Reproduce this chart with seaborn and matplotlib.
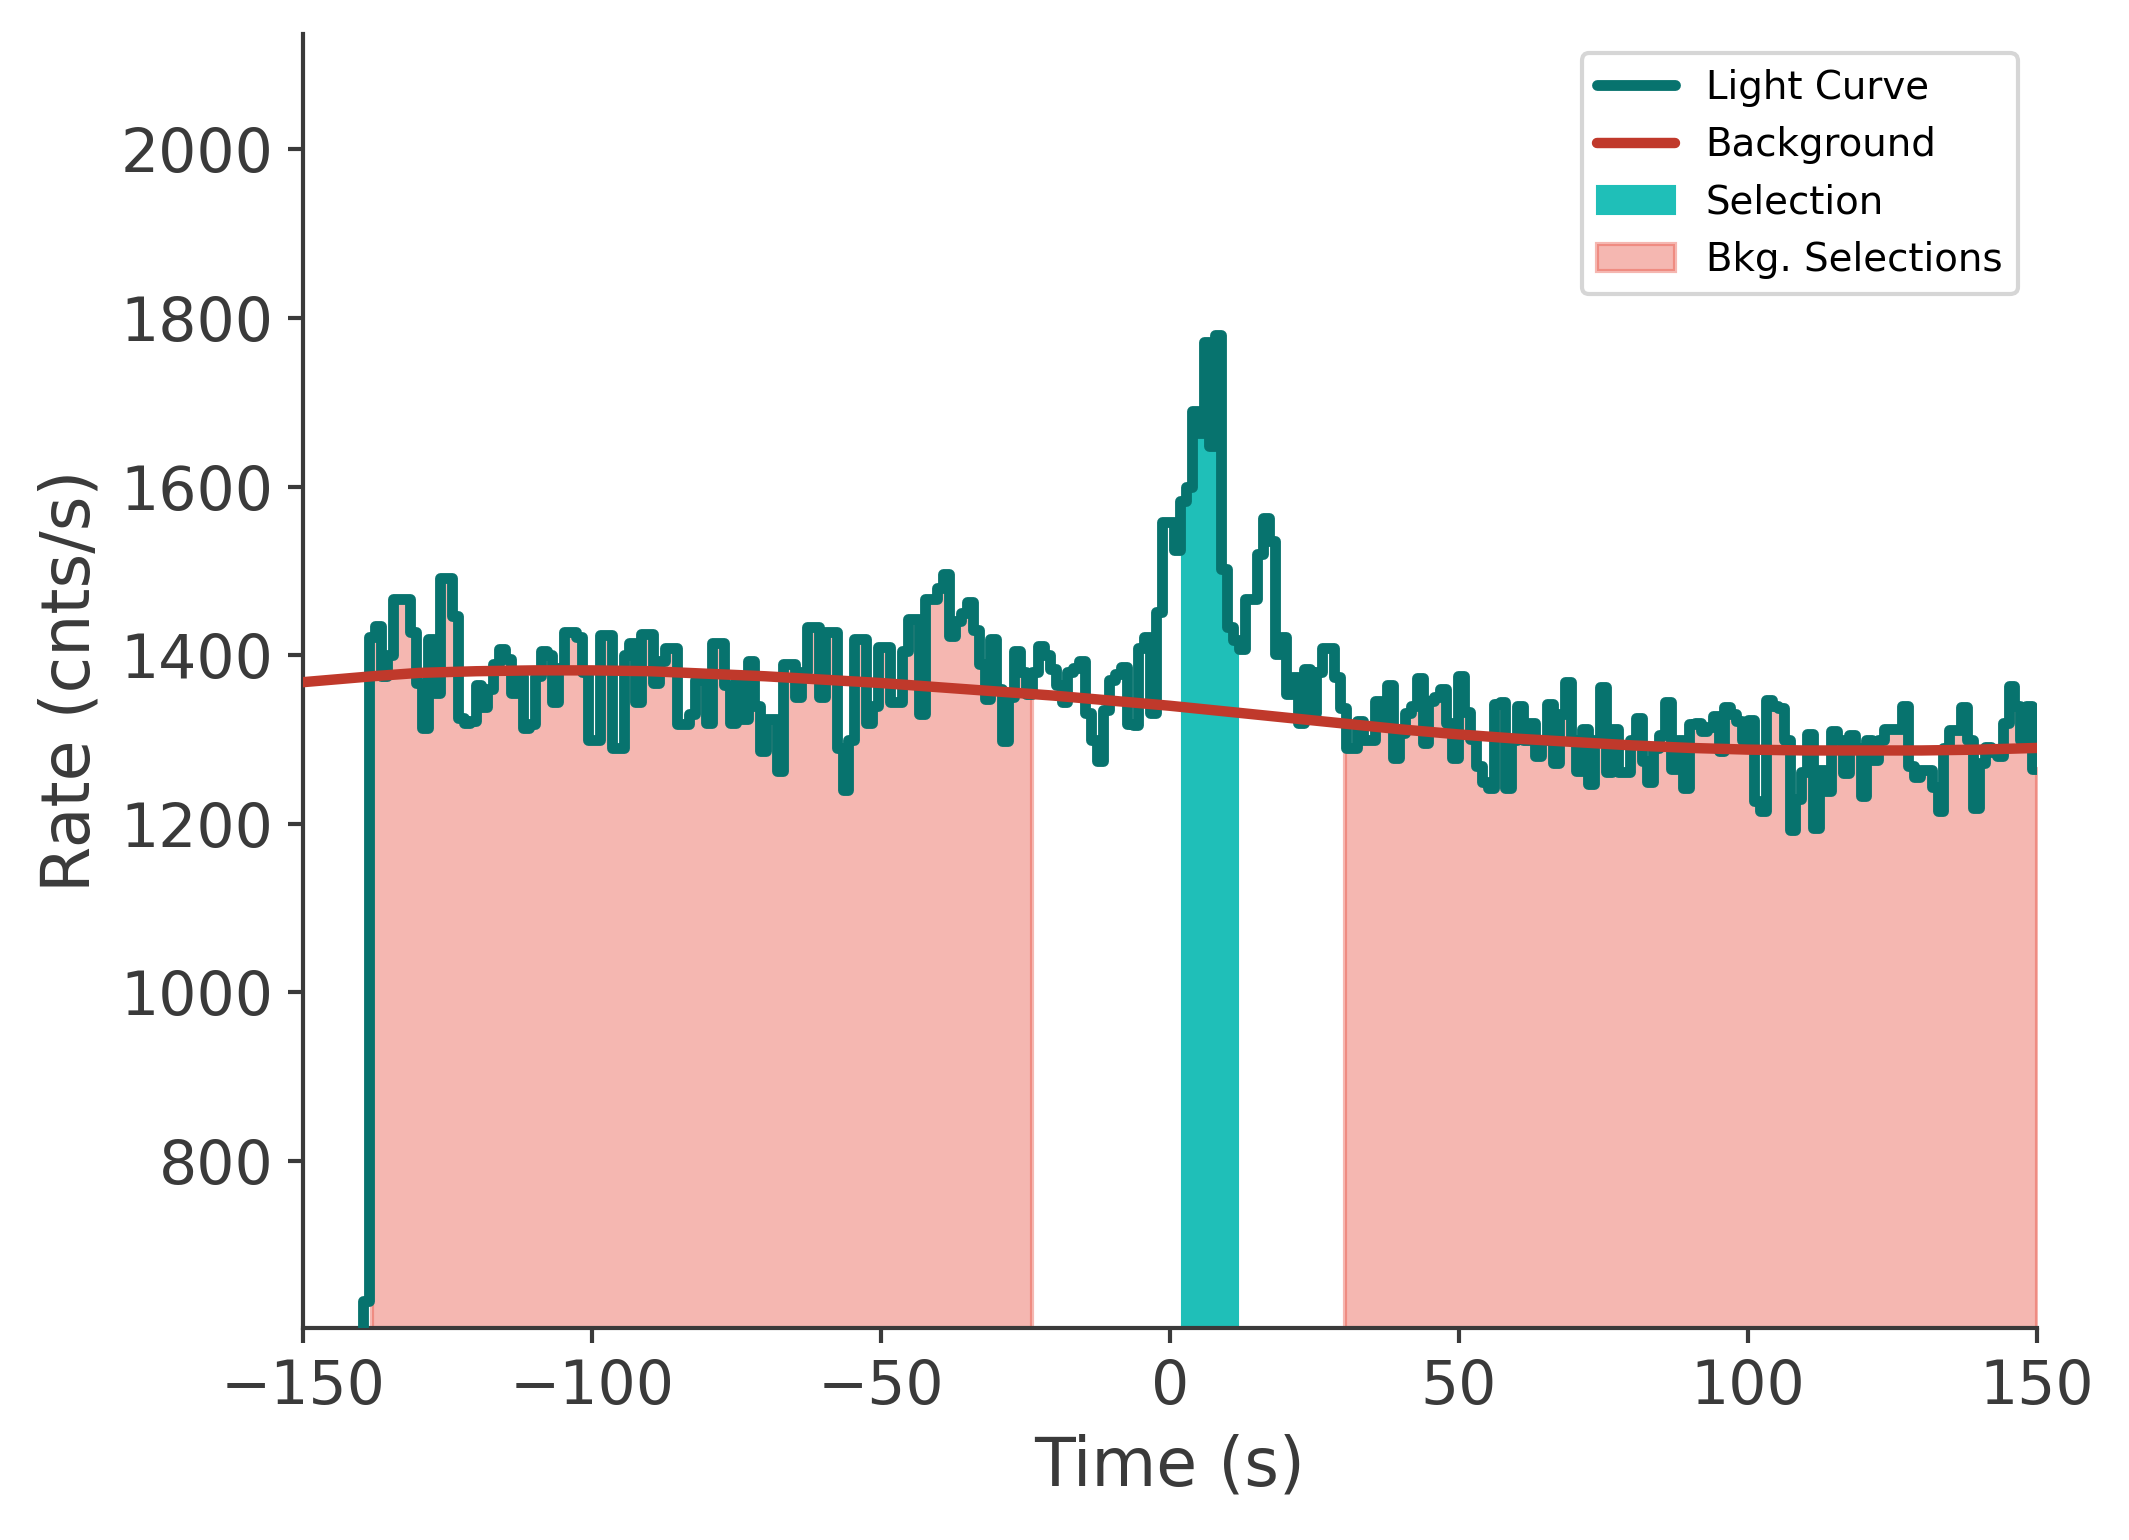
import numpy as np
import pandas as pd
import matplotlib
matplotlib.use("Agg")
import matplotlib.pyplot as plt
import seaborn as sns

# ---------------- data ----------------
# light curve: 1.024 s bins, first bin starts at t_start (rate 0 bin lies below the axis)
t_start = -140.624
bin_width = 1.024
rates = [
    0, 634,
    1421, 1435, 1375, 1400, 1467, 1467, 1467, 1428, 1367, 1314,
    1419, 1355, 1492, 1492, 1447, 1326, 1320, 1322, 1365, 1338,
    1360, 1390, 1407, 1395, 1355, 1375, 1314, 1318, 1375, 1405,
    1400, 1345, 1385, 1428, 1428, 1421, 1380, 1300, 1300, 1424,
    1424, 1290, 1290, 1400, 1414, 1345, 1425, 1425, 1367, 1393,
    1409, 1409, 1318, 1318, 1330, 1370, 1370, 1320, 1415, 1415,
    1365, 1320, 1370, 1324, 1393, 1340, 1286, 1324, 1324, 1263,
    1390, 1390, 1351, 1380, 1433, 1433, 1350, 1427, 1427, 1290,
    1240, 1300, 1419, 1419, 1320, 1340, 1410, 1410, 1344, 1344,
    1405, 1443, 1443, 1330, 1467, 1467, 1480, 1496, 1423, 1440,
    1450, 1463, 1430, 1390, 1348, 1419, 1360, 1298, 1350, 1405,
    1380, 1354, 1380, 1411, 1400, 1384, 1365, 1344, 1380, 1385,
    1393, 1332, 1300, 1274, 1335, 1370, 1378, 1386, 1318, 1317,
    1408, 1422, 1331, 1451, 1558, 1558, 1525, 1583, 1599, 1690,
    1664, 1772, 1648, 1780, 1502, 1433, 1418, 1407, 1467, 1467,
    1520, 1563, 1536, 1401, 1421, 1354, 1374, 1320, 1384, 1331,
    1380, 1409, 1409, 1374, 1337, 1290, 1290, 1322, 1299, 1300,
    1346, 1320, 1365, 1278, 1308, 1332, 1340, 1373, 1296, 1346,
    1350, 1360, 1320, 1278, 1375, 1333, 1301, 1269, 1250, 1243,
    1342, 1345, 1243, 1300, 1340, 1300, 1320, 1280, 1300, 1342,
    1272, 1330, 1368, 1300, 1263, 1313, 1247, 1300, 1362, 1262,
    1312, 1262, 1261, 1300, 1326, 1275, 1249, 1290, 1305, 1345,
    1265, 1300, 1243, 1318, 1320, 1310, 1315, 1328, 1286, 1338,
    1330, 1322, 1300, 1323, 1227, 1215, 1347, 1340, 1337, 1300,
    1193, 1230, 1262, 1307, 1195, 1264, 1239, 1310, 1299, 1260,
    1305, 1290, 1233, 1300, 1276, 1300, 1312, 1312, 1312, 1340,
    1268, 1255, 1264, 1264, 1244, 1215, 1290, 1311, 1311, 1339,
    1300, 1219, 1272, 1291, 1285, 1280, 1320, 1364, 1340, 1300,
    1340, 1265,
]

bkg_time = [-150, -138, -130, -120, -110, -100, -90, -80, -70, -60, -50,
            -40, -30, -20, -10, 0, 10, 20, 30, 40, 50, 60, 70, 80, 90,
            100, 110, 120, 130, 140, 150]
bkg_rate = [1368, 1375, 1379, 1381, 1382, 1382, 1381, 1378, 1375, 1371, 1367,
            1362, 1357, 1352, 1346, 1340, 1333, 1326, 1319, 1312, 1306,
            1301, 1297, 1293, 1290, 1288, 1287, 1287, 1287, 1288, 1290]

selection = (2.0, 11.7)
bkg_selections = [(-138.0, -23.8), (30.2, 150.0)]

xlim = (-150, 150)
ylim = (602, 2137)
xticks = [-150, -100, -50, 0, 50, 100, 150]
yticks = [800, 1000, 1200, 1400, 1600, 1800, 2000]

labels = ["Light Curve", "Background", "Selection", "Bkg. Selections"]

# ---------------- style ----------------
sns.set_style("ticks")
plt.rcParams["font.family"] = ["DejaVu Sans"]
TEXT = "#3a3a3a"
LC_COLOR = "#07736E"
BKG_COLOR = "#C0392B"
SEL_COLOR = "#1FBFB8"
BKGSEL_COLOR = "#E74C3C"

fig = plt.figure(figsize=(2129 / 300, 1540 / 300), dpi=300)
ax = fig.add_axes([0.1423, 0.1377, 0.9568 - 0.1423, 0.978 - 0.1377])

rates_arr = np.asarray(rates, dtype=float)
edges = t_start + bin_width * np.arange(len(rates_arr) + 1)


def step_segment(a, b):
    inner = edges[(edges > a) & (edges < b)]
    xs = np.concatenate([[a], inner, [b]])
    idx = np.clip(np.searchsorted(edges, xs, side="right") - 1, 0, len(rates_arr) - 1)
    return xs, rates_arr[idx]


# background selections
bkg_fill = None
for a, b in bkg_selections:
    xs, ys = step_segment(a, b)
    bkg_fill = ax.fill_between(xs, 0, ys, step="post", facecolor=BKGSEL_COLOR,
                               edgecolor=BKGSEL_COLOR, alpha=0.4, linewidth=1.0,
                               zorder=1)

# source selection
xs, ys = step_segment(*selection)
sel_fill = ax.fill_between(xs, 0, ys, step="post", facecolor=SEL_COLOR,
                           edgecolor=SEL_COLOR, linewidth=0.5, zorder=2)

# light curve
lc_df = pd.DataFrame({"time": edges, "rate": np.append(rates_arr, rates_arr[-1])})
sns.lineplot(data=lc_df, x="time", y="rate", ax=ax, color=LC_COLOR, lw=2.6,
             drawstyle="steps-post", estimator=None, sort=False, zorder=3)
lc_line = ax.lines[-1]

# background model
bkg_df = pd.DataFrame({"time": bkg_time, "rate": bkg_rate})
sns.lineplot(data=bkg_df, x="time", y="rate", ax=ax, color=BKG_COLOR, lw=2.5,
             estimator=None, sort=False, zorder=4)
bkg_line = ax.lines[-1]

ax.set_xlim(*xlim)
ax.set_ylim(*ylim)
ax.set_xticks(xticks)
ax.set_yticks(yticks)
ax.set_xlabel("Time (s)", fontsize=16, color=TEXT)
ax.set_ylabel("Rate (cnts/s)", fontsize=16, color=TEXT)
ax.tick_params(axis="both", labelsize=14.4, colors=TEXT, length=3.6, width=1.0)
for s in ["left", "bottom"]:
    ax.spines[s].set_color(TEXT)
    ax.spines[s].set_linewidth(1.0)
sns.despine(ax=ax)

leg = ax.legend([lc_line, bkg_line, sel_fill, bkg_fill], labels,
                loc="upper right", fontsize=9.3, frameon=True, fancybox=True,
                framealpha=0.8, edgecolor="0.8")
for t in leg.get_texts():
    t.set_color("black")

fig.savefig("out.png", dpi=300)
